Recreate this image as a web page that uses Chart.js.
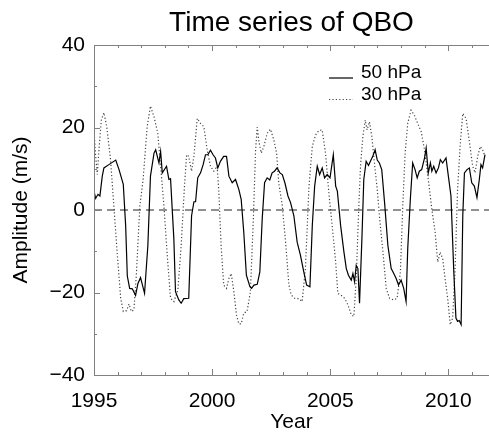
<!DOCTYPE html>
<html>
<head>
<meta charset="utf-8">
<script src="https://cdn.jsdelivr.net/npm/chart.js@4.4.0/dist/chart.umd.min.js"></script>
<style>
  html, body { margin: 0; padding: 0; background: #fff; overflow: hidden; }
</style>
</head>
<body>
<canvas id="grafico" width="489" height="435"></canvas>
<script>
// 50 hPa (linha cheia)
const anos50 = [
  1995.00, 1995.07, 1995.17, 1995.25, 1995.35, 1995.42, 1995.63, 1995.92, 1996.06, 1996.24,
  1996.34, 1996.41, 1996.51, 1996.62, 1996.76, 1996.86, 1996.97, 1997.14, 1997.28, 1997.39,
  1997.54, 1997.61, 1997.75, 1997.82, 1997.89, 1998.07, 1998.17, 1998.24, 1998.38, 1998.45,
  1998.59, 1998.69, 1998.80, 1999.01, 1999.13, 1999.23, 1999.30, 1999.39, 1999.51, 1999.62,
  1999.72, 1999.82, 1999.93, 2000.04, 2000.14, 2000.24, 2000.35, 2000.49, 2000.61, 2000.71,
  2000.85, 2000.99, 2001.13, 2001.23, 2001.34, 2001.45, 2001.60, 2001.67, 2001.77, 2001.91,
  2002.02, 2002.12, 2002.22, 2002.33, 2002.44, 2002.54, 2002.64, 2002.75, 2002.87, 2002.97,
  2003.08, 2003.21, 2003.32, 2003.46, 2003.60, 2003.74, 2003.88, 2004.00, 2004.14, 2004.24,
  2004.34, 2004.45, 2004.55, 2004.66, 2004.76, 2004.87, 2004.99, 2005.13, 2005.23, 2005.30,
  2005.44, 2005.58, 2005.68, 2005.77, 2005.89, 2005.96, 2006.03, 2006.10, 2006.17, 2006.24,
  2006.34, 2006.42, 2006.52, 2006.62, 2006.70, 2006.80, 2006.90, 2006.99, 2007.08, 2007.18,
  2007.30, 2007.44, 2007.58, 2007.69, 2007.79, 2007.89, 2008.00, 2008.11, 2008.21, 2008.28,
  2008.39, 2008.49, 2008.59, 2008.68, 2008.77, 2008.87, 2008.99, 2009.06, 2009.15, 2009.24,
  2009.30, 2009.38, 2009.48, 2009.58, 2009.66, 2009.76, 2009.90, 2010.00, 2010.11, 2010.23,
  2010.32, 2010.39, 2010.46, 2010.54, 2010.61, 2010.68, 2010.79, 2010.89, 2010.99, 2011.10,
  2011.21, 2011.31, 2011.38, 2011.45, 2011.55
];
const valores50 = [
  4.6, 2.8, 3.8, 3.4, 8.2, 10.2, 11.0, 12.1, 9.8, 6.2,
  -3.8, -16.0, -19.0, -19.1, -20.7, -17.8, -16.4, -20.2, -8.6, 8.2,
  13.8, 14.6, 11.4, 14.2, 9.0, 10.6, 7.4, 7.6, -7.0, -19.8,
  -21.8, -22.6, -21.5, -21.4, -1.4, 2.0, 2.0, 7.8, 9.0, 11.0,
  13.4, 13.4, 14.5, 13.4, 12.6, 10.2, 11.8, 13.0, 13.0, 8.2,
  6.6, 7.4, 5.0, 2.6, -5.4, -15.8, -18.6, -19.0, -18.2, -18.0,
  -15.0, -2.2, 6.6, 7.8, 7.3, 9.0, 9.4, 10.2, 9.0, 8.6,
  6.6, 3.4, 1.8, -1.4, -7.8, -11.0, -15.0, -18.2, -18.6, -3.8,
  5.8, 10.6, 8.6, 10.2, 7.8, 8.6, 7.8, 13.4, 5.8, 4.6,
  -3.8, -10.2, -14.2, -15.8, -17.0, -15.4, -17.4, -13.4, -14.2, -22.6,
  -7.0, 7.4, 11.8, 10.8, 11.8, 13.0, 14.6, 12.1, 11.4, 9.8,
  1.8, -8.6, -14.2, -15.4, -16.6, -18.2, -17.0, -19.0, -22.2, -9.4,
  2.6, 11.4, 9.8, 7.8, 9.4, 9.8, 12.6, 15.0, 9.0, 11.4,
  9.4, 10.6, 9.0, 10.2, 12.2, 11.4, 12.6, 8.2, 3.4, -15.0,
  -26.2, -27.0, -26.8, -27.8, -1.4, 9.0, 9.8, 10.2, 6.6, 5.8,
  3.0, 7.4, 11.0, 10.2, 13.4
];

// 30 hPa (pontilhada)
const anos30 = [
  1995.00, 1995.07, 1995.14, 1995.21, 1995.31, 1995.42, 1995.54, 1995.70, 1995.85, 1995.99,
  1996.13, 1996.24, 1996.38, 1996.48, 1996.58, 1996.69, 1996.80, 1996.94, 1997.08, 1997.25,
  1997.39, 1997.54, 1997.70, 1997.82, 1997.96, 1998.10, 1998.24, 1998.38, 1998.55, 1998.69,
  1998.83, 1998.92, 1999.01, 1999.13, 1999.23, 1999.37, 1999.51, 1999.65, 1999.79, 1999.93,
  2000.07, 2000.21, 2000.28, 2000.38, 2000.49, 2000.61, 2000.71, 2000.81, 2000.92, 2001.03,
  2001.13, 2001.23, 2001.34, 2001.48, 2001.62, 2001.74, 2001.84, 2001.91, 2001.98, 2002.08,
  2002.19, 2002.33, 2002.47, 2002.61, 2002.73, 2002.82, 2002.97, 2003.11, 2003.25, 2003.35,
  2003.49, 2003.67, 2003.81, 2003.95, 2004.10, 2004.24, 2004.38, 2004.52, 2004.66, 2004.80,
  2004.94, 2005.08, 2005.23, 2005.32, 2005.44, 2005.61, 2005.75, 2005.89, 2006.00, 2006.10,
  2006.20, 2006.28, 2006.38, 2006.48, 2006.56, 2006.66, 2006.76, 2006.87, 2006.99, 2007.08,
  2007.23, 2007.37, 2007.51, 2007.69, 2007.83, 2007.97, 2008.07, 2008.17, 2008.28, 2008.42,
  2008.56, 2008.70, 2008.85, 2008.99, 2009.15, 2009.30, 2009.44, 2009.55, 2009.65, 2009.76,
  2009.86, 2009.97, 2010.08, 2010.18, 2010.28, 2010.39, 2010.51, 2010.61, 2010.75, 2010.89,
  2011.03, 2011.13, 2011.24, 2011.35, 2011.45, 2011.55
];
const valores30 = [
  19.4, 13.0, 8.6, 14.6, 21.8, 23.6, 20.2, 12.2, 0.2, -11.0,
  -21.4, -24.6, -24.4, -22.8, -24.6, -24.2, -15.0, 1.0, 7.4, 20.2,
  25.2, 22.6, 18.6, 10.6, 1.0, -11.0, -21.4, -22.2, -19.4, -8.6,
  5.8, 13.4, 13.0, 9.4, 13.0, 22.2, 21.0, 20.2, 14.6, 10.6,
  9.4, 10.6, 5.0, -8.6, -18.2, -19.0, -16.6, -15.4, -19.8, -25.4,
  -27.6, -27.6, -25.0, -24.6, -19.8, -3.0, 14.6, 20.1, 16.6, 13.8,
  15.4, 18.6, 19.6, 17.0, 13.8, 6.6, 1.0, -7.8, -18.2, -20.6,
  -21.4, -21.5, -22.2, -14.2, 5.8, 15.4, 18.2, 19.3, 19.4, 13.8,
  4.2, -3.8, -12.6, -20.2, -20.6, -21.4, -23.0, -25.4, -25.8, -16.6,
  -0.6, 10.6, 17.8, 21.8, 19.4, 21.4, 17.8, 11.4, 5.0, -1.4,
  -10.2, -19.0, -21.4, -21.8, -21.4, -15.0, 1.0, 13.8, 21.0, 24.2,
  23.0, 21.0, 19.0, 14.6, 7.4, 0.2, -5.4, -12.6, -10.2, -11.8,
  -16.6, -21.4, -27.8, -26.2, -15.0, 5.0, 16.6, 23.4, 22.2, 16.6,
  10.6, 9.0, 13.0, 15.4, 14.6, 13.0
];

const rotulosX = [1995, 2000, 2005, 2010];
const rotulosY = [-40, -20, 0, 20, 40];
const xMin = 1995;
const xMax = 2011.72;

const fonte = 'Liberation Sans, Arial, Helvetica, sans-serif';

function pontos(xs, ys) {
  return xs.map((x, i) => ({ x: x, y: ys[i] }));
}

// moldura, marcas para dentro e legenda
const molduraPlugin = {
  id: 'moldura',
  afterDatasetsDraw(chart) {
    const { ctx, chartArea: a, scales: { x, y } } = chart;
    ctx.save();
    ctx.strokeStyle = '#808080';
    ctx.lineWidth = 1;
    ctx.beginPath();
    ctx.moveTo(a.left + 0.5, a.bottom + 0.5);
    ctx.lineTo(a.left + 0.5, a.top + 0.5);
    ctx.lineTo(a.right, a.top + 0.5);
    ctx.moveTo(a.left + 0.5, a.bottom + 0.5);
    ctx.lineTo(a.right, a.bottom + 0.5);
    for (let ano = 1995; ano <= 2011; ano++) {
      const px = Math.round(x.getPixelForValue(ano)) + 0.5;
      const t = ano % 5 === 0 ? 6 : 3;
      ctx.moveTo(px, a.bottom); ctx.lineTo(px, a.bottom - t);
      ctx.moveTo(px, a.top); ctx.lineTo(px, a.top + t);
    }
    for (let v = -40; v <= 40; v += 10) {
      const py = Math.round(y.getPixelForValue(v)) + 0.5;
      const t = v % 20 === 0 ? 6 : 3;
      ctx.moveTo(a.left, py); ctx.lineTo(a.left + t, py);
    }
    ctx.stroke();

    // legenda
    const itens = [
      { ds: chart.data.datasets[0], yl: 78 },
      { ds: chart.data.datasets[1], yl: 99.5 }
    ];
    ctx.font = '19px ' + fonte;
    ctx.fillStyle = '#000';
    ctx.textBaseline = 'alphabetic';
    itens.forEach(it => {
      ctx.beginPath();
      ctx.strokeStyle = it.ds.borderColor;
      ctx.lineWidth = it.ds.borderWidth;
      ctx.setLineDash(it.ds.borderDash || []);
      ctx.moveTo(329, it.yl);
      ctx.lineTo(353, it.yl);
      ctx.stroke();
      ctx.setLineDash([]);
      ctx.fillText(it.ds.label, 361, it.yl);
    });
    ctx.restore();
  }
};

const ctx = document.getElementById('grafico').getContext('2d');
const grafico = new Chart(ctx, {
  type: 'line',
  data: {
    datasets: [
      {
        label: '50 hPa',
        data: pontos(anos50, valores50),
        borderColor: '#000',
        borderWidth: 1.2,
        pointRadius: 0,
        tension: 0
      },
      {
        label: '30 hPa',
        data: pontos(anos30, valores30),
        borderColor: '#444',
        borderWidth: 1.2,
        borderDash: [1.2, 2.2],
        pointRadius: 0,
        tension: 0
      },
      {
        label: 'zero',
        data: [{ x: xMin, y: 0 }, { x: xMax, y: 0 }],
        borderColor: '#222',
        borderWidth: 1,
        borderDash: [8, 5],
        pointRadius: 0
      }
    ]
  },
  options: {
    responsive: false,
    animation: false,
    layout: { padding: 0 },
    plugins: {
      legend: { display: false },
      tooltip: { enabled: false },
      title: {
        display: true,
        fullSize: false,
        text: 'Time series of QBO',
        color: '#000',
        font: { family: fonte, size: 28, weight: 'normal' },
        padding: { top: 6, bottom: 5.4 }
      }
    },
    scales: {
      x: {
        type: 'linear',
        min: xMin,
        max: xMax,
        grid: { display: false, drawTicks: false },
        border: { display: false },
        afterBuildTicks: s => { s.ticks = rotulosX.map(v => ({ value: v })); },
        afterFit: s => { s.height = 60; },
        ticks: {
          color: '#000',
          font: { family: fonte, size: 21 },
          padding: 14,
          maxRotation: 0,
          autoSkip: false,
          callback: v => String(v)
        },
        title: {
          display: true,
          text: 'Year',
          color: '#000',
          font: { family: fonte, size: 21 },
          padding: 0
        }
      },
      y: {
        min: -40,
        max: 40,
        grid: { display: false, drawTicks: false },
        border: { display: false },
        afterBuildTicks: s => { s.ticks = rotulosY.map(v => ({ value: v })); },
        afterFit: s => { s.width = 94; },
        ticks: {
          color: '#000',
          font: { family: fonte, size: 21 },
          padding: 9,
          callback: v => v < 0 ? '\u2212' + Math.abs(v) : String(v)
        },
        title: {
          display: true,
          text: 'Amplitude (m/s)',
          color: '#000',
          font: { family: fonte, size: 21 },
          padding: { top: 9, bottom: 0 }
        }
      }
    }
  },
  plugins: [molduraPlugin]
});
</script>
</body>
</html>
